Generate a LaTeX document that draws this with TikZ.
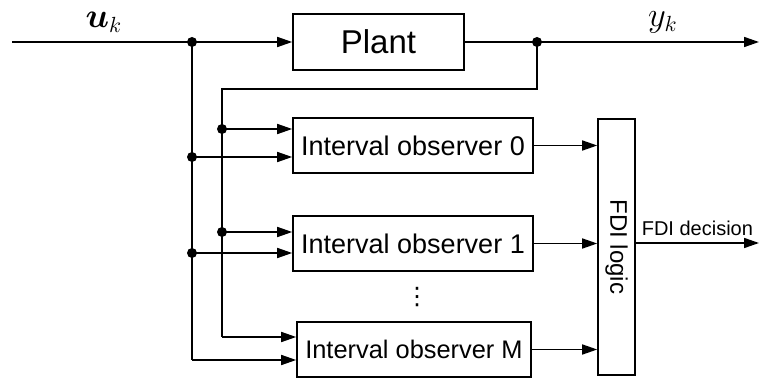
\documentclass[tikz,border=0pt]{standalone}
\usepackage{bm}
\usepackage{fontspec}
\setmainfont{Liberation Sans}
\newfontfamily\symfont{DejaVu Sans}
\usetikzlibrary{arrows.meta,positioning}

\begin{document}
\begin{tikzpicture}[x=0.5pt,y=-0.5pt,line width=0.8pt,
    >={Triangle[length=7.5pt,width=5pt]}]
            \tikzstyle{block}=[draw,rectangle,inner sep=0pt];
            \tikzstyle{obsbox}=[block,minimum width=120pt,minimum height=27.5pt,font=\fontsize{13.5}{16}\selectfont];
            \tikzstyle{junc}=[circle,fill,inner sep=0pt,minimum size=5pt];
            \useasboundingbox (0,0) rectangle (760,379);
            % blocks
            \node[block,minimum width=85.5pt,minimum height=28pt,font=\fontsize{16.5}{19}\selectfont] (plant) at (378.5,42) {Plant};
            \node[obsbox] (obs0) at (413,145.5) {Interval observer 0};
            \node[obsbox] (obs1) at (413,243.5) {Interval observer 1};
            \node[obsbox,minimum width=117pt,font=\fontsize{12.7}{15}\selectfont] (obsM) at (414,349.5) {Interval observer M};
            \node[block,minimum width=18.5pt,minimum height=128pt] (fdi) at (616.5,247) {};
            \node[rotate=-90,font=\fontsize{12}{14}\selectfont] (fdilbl) at (fdi.center) {FDI logic};
            \node[font=\symfont\fontsize{12}{14}\selectfont] (vd) at (417,297) {⋮};
            \node[font=\fontsize{16}{18}\selectfont] (uk) at (104,22) {$\bm{u}_k$};
            \node[font=\fontsize{16}{18}\selectfont] (yk) at (663,22) {$y_k$};
            % points on the lines
            \coordinate (in) at (12,42);
            \coordinate (ju) at (192,42);
            \coordinate (jy) at (537,42);
            \coordinate (out) at (759,42);
            \coordinate (fb) at (222,89);
            \coordinate (dec) at (759,243);
            \coordinate (u0) at (192,157);
            \coordinate (u1) at (192,253);
            \coordinate (uM) at (192,360);
            \coordinate (y0) at (222,129);
            \coordinate (y1) at (222,232);
            \coordinate (yM) at (222,337);
            % connectors
            \draw[->] (in) -- (plant.west);
            \draw[->] (plant.east) -- (out);
            \draw (ju) -- (uM);
            \draw (jy) |- (fb) -- (yM);
            \foreach \o in {0,1,M} {
                \draw[->] (u\o) -- (u\o -| obs\o.west);
                \draw[->] (y\o) -- (y\o -| obs\o.west);
                \draw[->] (obs\o.east) -- (obs\o.east -| fdi.west);
            }
            \draw[->] (dec -| fdi.east) -- node[above,font=\fontsize{10}{12}\selectfont] (declbl) {FDI decision} (dec);
            \foreach \j in {ju,jy,u0,u1,y0,y1}
                \node[junc] at (\j) {};
        \end{tikzpicture}
\end{document}
